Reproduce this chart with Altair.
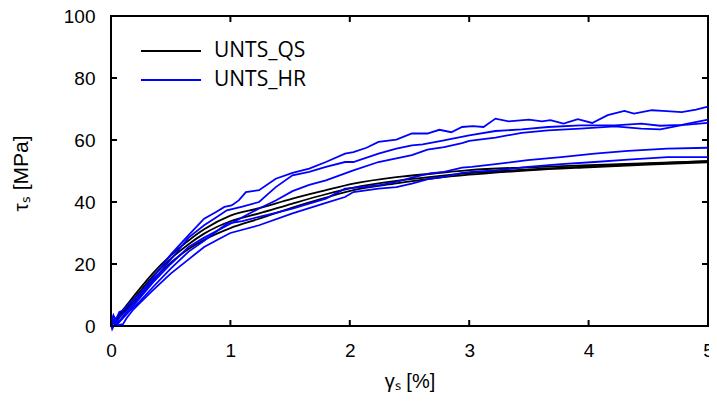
import altair as alt
import pandas as pd

# ---- data ----
X_TICKS = [0, 1, 2, 3, 4, 5]
Y_TICKS = [0, 20, 40, 60, 80, 100]
SERIES = ["UNTS_QS", "UNTS_HR"]

QS_X = [0, 0.05, 0.1, 0.23, 0.35, 0.5, 0.65, 0.78, 1.0, 1.24, 1.52, 1.8, 2.03, 2.39, 2.7, 3.0, 3.5, 4.0, 4.5, 5.0]
QS1_Y = [0.5, 2.8, 5.2, 11.5, 17.0, 22.8, 27.6, 31.2, 35.6, 38.0, 41.1, 43.8, 45.9, 48.0, 49.2, 50.3, 51.2, 51.9, 52.5, 53.2]
QS2_Y = [0.3, 2.4, 4.5, 10.5, 16.0, 21.7, 26.4, 29.8, 33.8, 36.3, 39.5, 42.5, 44.6, 46.8, 48.2, 49.3, 50.5, 51.5, 52.4, 53.2]
QS3_Y = [0.2, 2.0, 3.9, 9.4, 14.8, 20.4, 24.8, 27.8, 31.6, 34.6, 38.2, 41.4, 43.8, 46.0, 47.6, 48.8, 50.2, 51.2, 52.1, 52.8]

HR1_X = [0, 0.02, 0.04, 0.07, 0.1, 0.16, 0.23, 0.35, 0.5, 0.65, 0.78, 0.88, 0.95, 1.01, 1.07, 1.13, 1.24, 1.38, 1.52, 1.66, 1.8, 1.96, 2.03, 2.14, 2.24, 2.39, 2.52, 2.65, 2.75, 2.85, 2.94, 3.03, 3.12, 3.22, 3.33, 3.5, 3.61, 3.68, 3.79, 3.91, 4.03, 4.16, 4.3, 4.38, 4.53, 4.62, 4.78, 4.9, 5.0]
HR1_Y = [1.0, 3.5, 2.0, 4.5, 5.0, 7.5, 10.0, 15.5, 23.0, 29.3, 34.6, 36.8, 38.4, 38.9, 40.5, 43.2, 43.8, 47.5, 49.4, 50.8, 52.9, 55.6, 56.1, 57.5, 59.4, 60.1, 62.1, 62.1, 63.3, 62.5, 64.2, 64.5, 64.2, 66.9, 66.0, 66.6, 66.0, 66.4, 65.3, 66.7, 65.5, 68.0, 69.4, 68.5, 69.6, 69.4, 69.0, 69.8, 70.8]

HR2_X = [0, 0.02, 0.05, 0.08, 0.12, 0.23, 0.35, 0.5, 0.65, 0.78, 0.88, 0.97, 1.1, 1.24, 1.38, 1.52, 1.66, 1.8, 1.96, 2.03, 2.24, 2.39, 2.52, 2.61, 2.79, 2.83, 3.0, 3.22, 3.44, 3.66, 3.93, 4.22, 4.44, 4.6, 4.78, 5.0]
HR2_Y = [0.5, 2.0, 1.0, 3.5, 4.5, 9.0, 14.5, 21.5, 28.5, 32.5, 35.0, 37.3, 38.5, 40.0, 44.8, 48.6, 49.7, 51.3, 52.9, 52.9, 55.6, 57.2, 58.3, 58.6, 59.9, 60.2, 61.5, 62.9, 63.4, 64.2, 64.7, 64.7, 65.3, 64.6, 64.9, 66.6]

HR3_X = [0, 0.03, 0.06, 0.1, 0.15, 0.23, 0.35, 0.5, 0.65, 0.78, 1.0, 1.12, 1.24, 1.38, 1.52, 1.66, 1.8, 2.03, 2.24, 2.52, 2.65, 2.79, 2.94, 3.0, 3.22, 3.44, 3.66, 3.93, 4.22, 4.44, 4.6, 4.78, 5.0]
HR3_Y = [0.0, 2.5, 1.0, 3.0, 5.0, 8.5, 14.0, 20.0, 25.5, 28.5, 33.0, 35.5, 37.9, 40.5, 43.5, 45.5, 47.0, 50.2, 52.9, 55.1, 56.9, 57.7, 59.0, 59.7, 60.8, 62.3, 63.1, 63.7, 64.4, 63.7, 63.4, 64.8, 65.5]

HR4_X = [0, 0.02, 0.05, 0.1, 0.16, 0.23, 0.35, 0.5, 0.65, 0.78, 0.97, 1.1, 1.24, 1.38, 1.52, 1.66, 1.8, 1.96, 2.1, 2.24, 2.39, 2.52, 2.67, 2.79, 2.94, 3.02, 3.22, 3.49, 3.77, 4.05, 4.33, 4.66, 5.0]
HR4_Y = [0.3, 1.5, 0.5, 2.5, 5.0, 7.5, 12.5, 18.5, 24.0, 27.5, 33.0, 33.8, 35.2, 36.5, 37.9, 39.5, 41.1, 44.3, 44.8, 45.4, 46.5, 47.9, 49.2, 49.7, 51.1, 51.3, 52.2, 53.5, 54.5, 55.6, 56.5, 57.2, 57.5]

HR5_X = [0, 0.01, 0.03, 0.06, 0.1, 0.13, 0.18, 0.23, 0.35, 0.5, 0.65, 0.78, 0.9, 1.0, 1.24, 1.52, 1.8, 1.96, 2.03, 2.24, 2.39, 2.52, 2.67, 2.79, 2.94, 3.02, 3.22, 3.49, 3.77, 4.05, 4.33, 4.66, 5.0]
HR5_Y = [0.5, -1.0, 0.6, 0.3, 0.6, 2.5, 5.0, 7.0, 11.5, 16.9, 21.5, 25.5, 28.0, 30.0, 32.5, 36.3, 39.7, 41.6, 43.2, 44.3, 44.8, 45.9, 47.5, 48.1, 49.4, 49.7, 50.2, 51.3, 52.2, 52.9, 53.7, 54.5, 54.5]

curves = [
    ("UNTS_QS", "qs1", QS_X, QS1_Y),
    ("UNTS_QS", "qs2", QS_X, QS2_Y),
    ("UNTS_QS", "qs3", QS_X, QS3_Y),
    ("UNTS_HR", "hr1", HR1_X, HR1_Y),
    ("UNTS_HR", "hr2", HR2_X, HR2_Y),
    ("UNTS_HR", "hr3", HR3_X, HR3_Y),
    ("UNTS_HR", "hr4", HR4_X, HR4_Y),
    ("UNTS_HR", "hr5", HR5_X, HR5_Y),
]
rows = []
for series, run, xs, ys in curves:
    for i, (x, y) in enumerate(zip(xs, ys)):
        rows.append({"series": series, "run": run, "i": i, "gamma": x, "tau": y})
df = pd.DataFrame(rows)
xt = pd.DataFrame({"gamma": X_TICKS})
yt = pd.DataFrame({"tau": Y_TICKS})

W, H = 597, 310
TICK = 6

x_scale = alt.Scale(domain=[0, 5], nice=False, zero=False)
y_scale = alt.Scale(domain=[0, 100], nice=False)

color = alt.Color(
    "series:N",
    scale=alt.Scale(domain=SERIES, range=["#000000", "#0000ff"]),
    legend=alt.Legend(
        orient="none", legendX=29, legendY=25, title=None,
        symbolType="stroke", symbolSize=3600, symbolStrokeWidth=2,
        labelFont="Open Sans", labelFontSize=21, labelColor="black",
        labelOffset=12, clipHeight=20, rowPadding=8, padding=0,
    ),
)

x_bottom = alt.Axis(
    orient="bottom", values=X_TICKS, format="d", grid=False, domain=False, ticks=False,
    labelFlush=False,
    labelFont="Liberation Sans", labelFontSize=19, labelColor="black", labelPadding=15,
    title="γₛ [%]", titleFont="Liberation Sans", titleFontSize=20, titleFontWeight="normal",
    titleColor="black", titleX=W / 2, titleY=61, titleBaseline="alphabetic", titleAlign="center",
)
y_left = alt.Axis(
    orient="left", values=Y_TICKS, format="d", grid=False, domain=False, ticks=False,
    labelFlush=False,
    labelFont="Liberation Sans", labelFontSize=19, labelColor="black", labelPadding=16,
    title="τₛ [MPa]", titleFont="Liberation Sans", titleFontSize=21, titleFontWeight="normal",
    titleColor="black", titleX=-84, titleY=157, titleAngle=270,
    titleBaseline="alphabetic", titleAlign="center",
)

X_ENC = alt.X("gamma:Q", scale=x_scale, axis=x_bottom)
Y_ENC = alt.Y("tau:Q", scale=y_scale, axis=y_left)

qs = alt.Chart(df).transform_filter(alt.datum.series == "UNTS_QS").mark_line(
    strokeWidth=1.8, interpolate="monotone"
).encode(x=X_ENC, y=Y_ENC, color=color, detail="run:N", order="i:Q")

hr = alt.Chart(df).transform_filter(alt.datum.series == "UNTS_HR").mark_line(
    strokeWidth=1.8
).encode(x=X_ENC, y=Y_ENC, color=color, detail="run:N", order="i:Q")

tick_style = dict(color="black", strokeWidth=2)
ticks_bottom = alt.Chart(xt).mark_rule(**tick_style).encode(
    x=X_ENC, y=alt.value(H), y2=alt.value(H - TICK))
ticks_top = alt.Chart(xt).mark_rule(**tick_style).encode(
    x=X_ENC, y=alt.value(0), y2=alt.value(TICK))
ticks_left = alt.Chart(yt).mark_rule(**tick_style).encode(
    y=Y_ENC, x=alt.value(0), x2=alt.value(TICK))
ticks_right = alt.Chart(yt).mark_rule(**tick_style).encode(
    y=Y_ENC, x=alt.value(W), x2=alt.value(W - TICK))

chart = alt.layer(qs, hr, ticks_bottom, ticks_top, ticks_left, ticks_right).properties(
    width=W, height=H,
    autosize=alt.AutoSizeParams(type="none"),
    padding={"left": 103, "top": 8, "right": 1, "bottom": 68},
    background="white",
).configure_view(stroke="black", strokeWidth=2)

chart.save("out.html", embed_options={"renderer": "svg", "actions": False})
